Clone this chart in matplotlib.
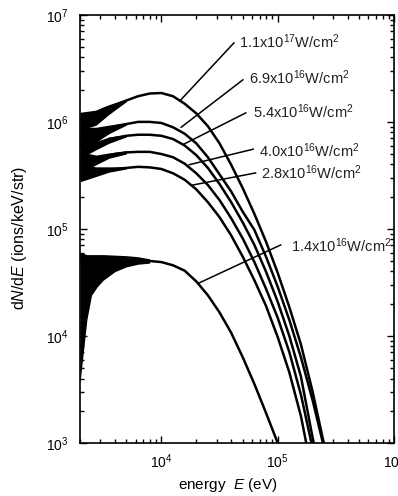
import numpy as np
import matplotlib.pyplot as plt

plt.rcParams['font.family'] = ['Liberation Sans', 'DejaVu Sans']
plt.rcParams['mathtext.fontset'] = 'custom'
plt.rcParams['mathtext.rm'] = 'Liberation Sans'
plt.rcParams['mathtext.it'] = 'Liberation Sans:italic'
plt.rcParams['mathtext.default'] = 'regular'

# energies and spectra, stored as log10 values
log_e = [3.3, 3.4, 3.5, 3.6, 3.7, 3.8, 3.9, 4.0, 4.1, 4.2, 4.3, 4.4,
         4.5, 4.6, 4.7, 4.8, 4.9, 5.0, 5.1, 5.2, 5.3, 5.4]

labels = ["1.1x10$^{17}$W/cm$^2$", "6.9x10$^{16}$W/cm$^2$", "5.4x10$^{16}$W/cm$^2$",
          "4.0x10$^{16}$W/cm$^2$", "2.8x10$^{16}$W/cm$^2$", "1.4x10$^{16}$W/cm$^2$"]

spec_110 = [6.02, 6.07, 6.12, 6.16, 6.20, 6.24, 6.265, 6.27, 6.24, 6.17, 6.08, 5.96,
            5.80, 5.60, 5.38, 5.14, 4.88, 4.59, 4.27, 3.92, 3.48, 2.98]
spec_69 = [5.85, 5.89, 5.93, 5.96, 5.98, 6.00, 6.00, 5.99, 5.95, 5.89, 5.80, 5.67,
           5.51, 5.35, 5.16, 4.99, 4.74, 4.46, 4.15, 3.80, 3.40, 2.95]
spec_54 = [5.76, 5.79, 5.82, 5.85, 5.87, 5.88, 5.88, 5.87, 5.84, 5.78, 5.69, 5.57,
           5.42, 5.25, 5.06, 4.85, 4.60, 4.32, 4.00, 3.62, 3.05, 2.50]
spec_40 = [5.61, 5.64, 5.67, 5.70, 5.715, 5.72, 5.72, 5.70, 5.67, 5.61, 5.52, 5.41,
           5.27, 5.10, 4.91, 4.69, 4.44, 4.17, 3.85, 3.45, 2.95, 2.40]
spec_28 = [5.50, 5.52, 5.54, 5.56, 5.57, 5.58, 5.575, 5.56, 5.52, 5.46, 5.37, 5.25,
           5.11, 4.94, 4.74, 4.52, 4.28, 3.99, 3.66, 3.25, 2.70, 2.20]
spec_14 = [4.70, 4.70, 4.70, 4.70, 4.70, 4.70, 4.70, 4.69, 4.66, 4.61, 4.51, 4.38,
           4.22, 4.03, 3.80, 3.55, 3.28, 3.00, 2.70, 2.40, 2.10, 1.80]
spectra = [spec_110, spec_69, spec_54, spec_40, spec_28, spec_14]

# shot-to-shot noise envelope at low energy (log10)
band_e = [3.30, 3.44, 3.55, 3.70]
band_lo = [[5.92, 5.97, 6.07, 6.19], [5.76, 5.81, 5.89, 5.97], [5.66, 5.74, 5.80, 5.86],
           [5.52, 5.60, 5.66, 5.70], [5.44, 5.49, 5.53, 5.56]]
band_hi = [[6.09, 6.11, 6.16, 6.21], [5.95, 5.95, 5.97, 5.99], [5.85, 5.81, 5.86, 5.88],
           [5.72, 5.69, 5.71, 5.73], [5.60, 5.58, 5.58, 5.58]]
band14_e = [3.30, 3.33, 3.36, 3.40, 3.45, 3.50, 3.60, 3.70, 3.80, 3.90]
band14_lo = [3.55, 3.85, 4.15, 4.38, 4.46, 4.52, 4.60, 4.645, 4.67, 4.68]
band14_hi = [4.78, 4.77, 4.76, 4.76, 4.76, 4.76, 4.755, 4.75, 4.74, 4.72]

# label text anchor and leader line ends (log10 E, log10 dN/dE)
text_pos = [(4.667, 6.748), (4.752, 6.411), (4.786, 6.093), (4.838, 5.729), (4.855, 5.523), (5.111, 4.841)]
line_start = [(4.624, 6.738), (4.701, 6.393), (4.726, 6.084), (4.790, 5.745), (4.810, 5.523), (5.026, 4.850)]
line_end = [(4.171, 6.21), (4.171, 5.95), (4.19, 5.79), (4.24, 5.60), (4.27, 5.41), (4.325, 4.495)]

fig = plt.figure(figsize=(3.98, 4.96), dpi=100)
ax = fig.add_axes([0.201, 0.107, 0.789, 0.863])

E = 10 ** np.array(log_e)
for s in spectra:
    ax.plot(E, 10 ** np.array(s), color='black', lw=1.8, solid_capstyle='butt')
for lo, hi in zip(band_lo, band_hi):
    ax.fill_between(10 ** np.array(band_e), 10 ** np.array(lo), 10 ** np.array(hi),
                    color='black', lw=0)
ax.fill_between(10 ** np.array(band14_e), 10 ** np.array(band14_lo), 10 ** np.array(band14_hi),
                color='black', lw=0)

for lab, tp, ls, le in zip(labels, text_pos, line_start, line_end):
    ax.plot([10 ** ls[0], 10 ** le[0]], [10 ** ls[1], 10 ** le[1]], color='black', lw=1.1)
    ax.text(10 ** tp[0], 10 ** tp[1], lab, fontsize=10.5, ha='left', va='center', color='#222222')

ax.set_xscale('log')
ax.set_yscale('log')
ax.set_xlim(2e3, 1e6)
ax.set_ylim(1e3, 1e7)
ax.tick_params(which='both', direction='in', top=True, right=True, labelsize=10, width=1.0)
ax.tick_params(which='major', length=5)
ax.tick_params(which='minor', length=3)
ax.tick_params(axis='y', which='major', pad=8)
ax.tick_params(axis='x', which='major', pad=7)
for sp in ax.spines.values():
    sp.set_linewidth(1.2)

ax.set_xlabel('energy  $\\it{E}$ (eV)', fontsize=11)
ax.set_ylabel('d$\\it{N}$/d$\\it{E}$ (ions/keV/str)', fontsize=11.5)
ax.xaxis.set_label_coords(0.471, -0.078)
ax.yaxis.set_label_coords(-0.162, 0.48)

fig.savefig('out.png', dpi=100)
